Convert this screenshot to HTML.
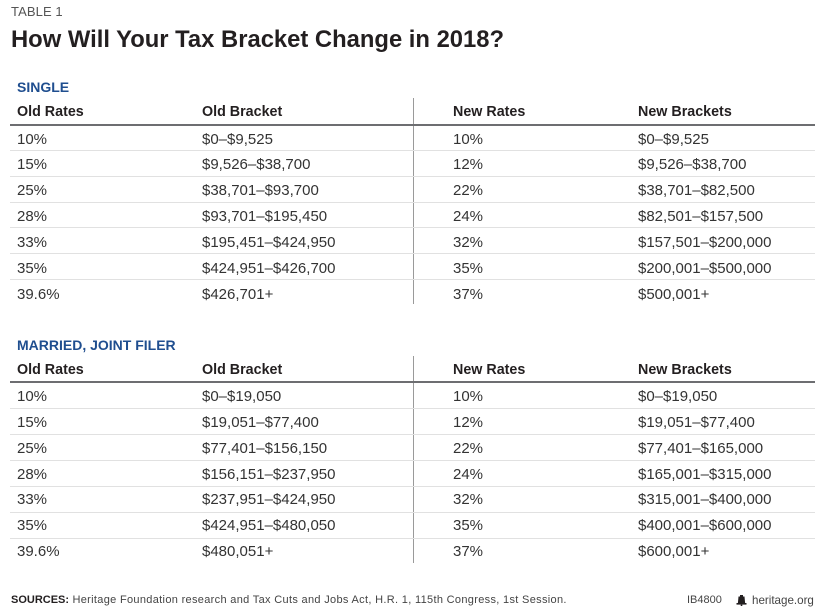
<!DOCTYPE html>
<html>
<head>
<meta charset="utf-8">
<style>
  html,body{margin:0;padding:0;background:#fff;}
  body{width:825px;height:610px;position:relative;overflow:hidden;font-family:"Liberation Sans",Arial,sans-serif;}
  .a{position:absolute;white-space:nowrap;}
  .t1{left:11px;top:5px;font-size:13px;line-height:13px;color:#555;letter-spacing:0.1px;}
  .title{left:11px;top:28.2px;font-size:23.8px;line-height:23.8px;font-weight:bold;color:#231f20;}
  .sec{left:17px;font-size:14px;line-height:14px;font-weight:bold;color:#1f4e8f;}
  .row{position:absolute;left:0;width:825px;height:15px;font-size:15px;line-height:15px;color:#333;}
  .row span{position:absolute;top:0;white-space:nowrap;}
  .hdr{font-size:14.3px;line-height:14.3px;font-weight:bold;color:#231f20;}
  .c1{left:17px}.c2{left:202px}.c3{left:453px}.c4{left:638px}
  .hl{position:absolute;left:10px;width:805px;height:2px;background:#6d6e71;}
  .rl{position:absolute;left:10px;width:805px;height:1px;background:#e1e1e1;}
  .vl{position:absolute;left:413px;width:1px;background:#9a9a9a;}
  .foot{top:594.7px;font-size:11px;line-height:11px;color:#444;}
</style>
</head>
<body>
<div class="a t1">TABLE 1</div>
<div class="a title">How Will Your Tax Bracket Change in 2018?</div>

<!-- SINGLE -->
<div class="a sec" style="top:79.8px;">SINGLE</div>
<div class="vl" style="top:98px;height:206px;"></div>
<div class="row hdr" style="top:105.2px;"><span class="c1">Old Rates</span><span class="c2">Old Bracket</span><span class="c3">New Rates</span><span class="c4">New Brackets</span></div>
<div class="hl" style="top:123.5px;"></div>
<div class="rl" style="top:150px;"></div>
<div class="rl" style="top:176px;"></div>
<div class="rl" style="top:201.5px;"></div>
<div class="rl" style="top:227px;"></div>
<div class="rl" style="top:253px;"></div>
<div class="rl" style="top:279px;"></div>

<div class="row" style="top:131.6px;"><span class="c1">10%</span><span class="c2">$0–$9,525</span><span class="c3">10%</span><span class="c4">$0–$9,525</span></div>
<div class="row" style="top:157.4px;"><span class="c1">15%</span><span class="c2">$9,526–$38,700</span><span class="c3">12%</span><span class="c4">$9,526–$38,700</span></div>
<div class="row" style="top:183.3px;"><span class="c1">25%</span><span class="c2">$38,701–$93,700</span><span class="c3">22%</span><span class="c4">$38,701–$82,500</span></div>
<div class="row" style="top:209.1px;"><span class="c1">28%</span><span class="c2">$93,701–$195,450</span><span class="c3">24%</span><span class="c4">$82,501–$157,500</span></div>
<div class="row" style="top:234.9px;"><span class="c1">33%</span><span class="c2">$195,451–$424,950</span><span class="c3">32%</span><span class="c4">$157,501–$200,000</span></div>
<div class="row" style="top:260.8px;"><span class="c1">35%</span><span class="c2">$424,951–$426,700</span><span class="c3">35%</span><span class="c4">$200,001–$500,000</span></div>
<div class="row" style="top:286.6px;"><span class="c1">39.6%</span><span class="c2">$426,701+</span><span class="c3">37%</span><span class="c4">$500,001+</span></div>

<!-- MARRIED -->
<div class="a sec" style="top:338px;">MARRIED, JOINT FILER</div>
<div class="vl" style="top:356px;height:207px;"></div>
<div class="row hdr" style="top:363.4px;"><span class="c1">Old Rates</span><span class="c2">Old Bracket</span><span class="c3">New Rates</span><span class="c4">New Brackets</span></div>
<div class="hl" style="top:381px;"></div>
<div class="rl" style="top:408px;"></div>
<div class="rl" style="top:434px;"></div>
<div class="rl" style="top:460px;"></div>
<div class="rl" style="top:485.5px;"></div>
<div class="rl" style="top:511.5px;"></div>
<div class="rl" style="top:537.5px;"></div>

<div class="row" style="top:389.1px;"><span class="c1">10%</span><span class="c2">$0–$19,050</span><span class="c3">10%</span><span class="c4">$0–$19,050</span></div>
<div class="row" style="top:414.9px;"><span class="c1">15%</span><span class="c2">$19,051–$77,400</span><span class="c3">12%</span><span class="c4">$19,051–$77,400</span></div>
<div class="row" style="top:440.8px;"><span class="c1">25%</span><span class="c2">$77,401–$156,150</span><span class="c3">22%</span><span class="c4">$77,401–$165,000</span></div>
<div class="row" style="top:466.6px;"><span class="c1">28%</span><span class="c2">$156,151–$237,950</span><span class="c3">24%</span><span class="c4">$165,001–$315,000</span></div>
<div class="row" style="top:492.4px;"><span class="c1">33%</span><span class="c2">$237,951–$424,950</span><span class="c3">32%</span><span class="c4">$315,001–$400,000</span></div>
<div class="row" style="top:518.3px;"><span class="c1">35%</span><span class="c2">$424,951–$480,050</span><span class="c3">35%</span><span class="c4">$400,001–$600,000</span></div>
<div class="row" style="top:544.1px;"><span class="c1">39.6%</span><span class="c2">$480,051+</span><span class="c3">37%</span><span class="c4">$600,001+</span></div>

<!-- Footer -->
<div class="a foot" style="left:11px;"><b style="color:#231f20;">SOURCES:</b><span style="letter-spacing:0.32px;"> Heritage Foundation research and Tax Cuts and Jobs Act, H.R. 1, 115th Congress, 1st Session.</span></div>
<div class="a foot" style="left:687px;">IB4800</div>
<svg style="position:absolute;left:736px;top:595px;" width="11" height="11" viewBox="0 0 10 11">
  <rect x="3.5" y="0" width="3" height="1.5" fill="#231f20"/>
  <path d="M2 1.5 H8 L8.6 8 H1.4 Z" fill="#231f20"/>
  <rect x="0" y="8" width="10" height="1.6" fill="#231f20"/>
  <rect x="4.2" y="9.6" width="1.6" height="1.4" fill="#231f20"/>
</svg>
<div class="a foot" style="left:752px;font-size:11.6px;">heritage.org</div>
</body>
</html>
